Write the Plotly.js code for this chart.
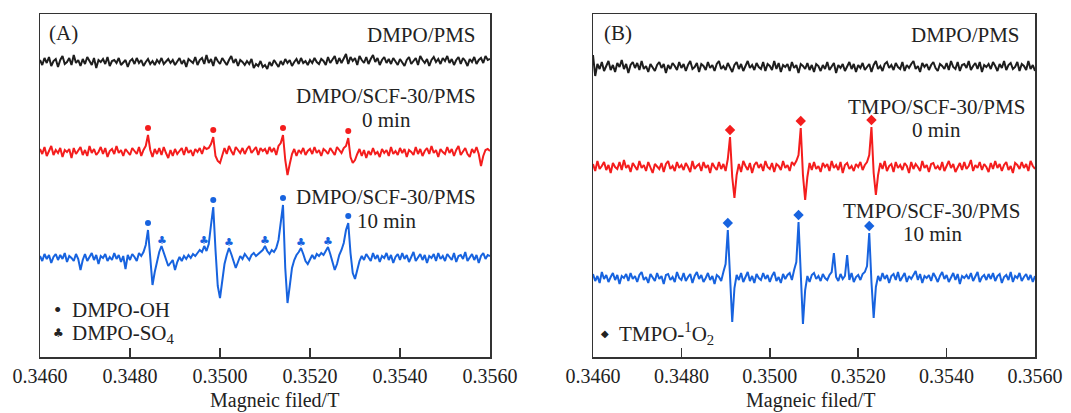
<!DOCTYPE html>
<html><head><meta charset="utf-8">
<script src="https://cdn.plot.ly/plotly-3.0.1.min.js"></script>
<style>html,body{margin:0;padding:0;background:#fff;}#chart{width:1071px;height:413px;}</style>
</head><body><div id="chart"></div>
<script>
// Magnetic field grid (T), shared by all spectra
const field = [
0.34600,0.34605,0.34610,0.34615,0.34620,0.34625,0.34630,0.34635,0.34640,0.34645,0.34650,0.34655,0.34660,0.34665,0.34670,0.34675,0.34680,0.34685,0.34690,0.34695,
0.34700,0.34705,0.34710,0.34715,0.34720,0.34725,0.34730,0.34735,0.34740,0.34745,0.34750,0.34755,0.34760,0.34765,0.34770,0.34775,0.34780,0.34785,0.34790,0.34795,
0.34800,0.34805,0.34810,0.34815,0.34820,0.34825,0.34830,0.34835,0.34840,0.34845,0.34850,0.34855,0.34860,0.34865,0.34870,0.34875,0.34880,0.34885,0.34890,0.34895,
0.34900,0.34905,0.34910,0.34915,0.34920,0.34925,0.34930,0.34935,0.34940,0.34945,0.34950,0.34955,0.34960,0.34965,0.34970,0.34975,0.34980,0.34985,0.34990,0.34995,
0.35000,0.35005,0.35010,0.35015,0.35020,0.35025,0.35030,0.35035,0.35040,0.35045,0.35050,0.35055,0.35060,0.35065,0.35070,0.35075,0.35080,0.35085,0.35090,0.35095,
0.35100,0.35105,0.35110,0.35115,0.35120,0.35125,0.35130,0.35135,0.35140,0.35145,0.35150,0.35155,0.35160,0.35165,0.35170,0.35175,0.35180,0.35185,0.35190,0.35195,
0.35200,0.35205,0.35210,0.35215,0.35220,0.35225,0.35230,0.35235,0.35240,0.35245,0.35250,0.35255,0.35260,0.35265,0.35270,0.35275,0.35280,0.35285,0.35290,0.35295,
0.35300,0.35305,0.35310,0.35315,0.35320,0.35325,0.35330,0.35335,0.35340,0.35345,0.35350,0.35355,0.35360,0.35365,0.35370,0.35375,0.35380,0.35385,0.35390,0.35395,
0.35400,0.35405,0.35410,0.35415,0.35420,0.35425,0.35430,0.35435,0.35440,0.35445,0.35450,0.35455,0.35460,0.35465,0.35470,0.35475,0.35480,0.35485,0.35490,0.35495,
0.35500,0.35505,0.35510,0.35515,0.35520,0.35525,0.35530,0.35535,0.35540,0.35545,0.35550,0.35555,0.35560,0.35565,0.35570,0.35575,0.35580,0.35585,0.35590,0.35595,
0.35600];

// Panel A spectra (relative intensity, a.u.)
const a_dmpo_pms = [
2,-3,4,-1,5,-4,1,3,-5,2,6,-2,0,4,-3,7,-1,2,-4,3,
-2,5,1,-3,4,-6,2,0,3,-2,5,-4,1,2,-1,4,-3,0,2,-5,
1,3,-2,4,-1,2,-4,0,3,-2,1,-3,2,-1,4,-2,0,3,-1,2,
-3,1,4,-2,2,-5,3,1,-1,5,-3,2,4,-2,7,-1,3,-4,5,1,
-2,4,0,-3,2,6,-1,3,-4,2,0,-3,1,-2,3,-6,-2,-4,1,-5,
-3,-7,0,-4,2,-2,-5,1,-3,3,-1,2,-4,0,3,-2,4,-1,1,-3,
2,-1,4,0,-2,3,1,-3,5,-1,2,6,-2,4,-1,3,8,-2,5,1,
4,-3,6,2,-1,5,-2,3,7,0,4,-3,2,5,-1,3,-2,4,1,-3,
3,0,-4,2,5,-2,1,4,-3,6,2,-1,3,-4,2,5,0,3,-2,4,
1,6,-1,3,-3,2,5,-2,4,1,-4,3,0,5,-2,2,4,-1,6,2,
3];
const a_scf_0min = [
3,-2,5,-4,1,6,-3,2,-1,4,-5,2,0,3,-6,4,-2,1,5,-3,
2,-4,6,-1,3,-3,0,5,-2,4,-5,1,3,-2,6,-1,2,-4,3,0,
-3,4,1,-2,5,-4,2,6,17,2,-5,3,-2,4,-3,5,-1,-6,2,-4,
3,-2,1,4,-3,5,-1,2,-4,3,0,4,-2,5,3,4,8,15,-4,-9,
-11,-3,4,-2,6,1,-3,5,2,-1,4,-2,3,6,-1,2,5,-3,4,1,
3,-2,5,0,4,-3,6,9,17,-8,-23,-12,-2,3,-4,2,-1,4,-3,1,
3,-2,5,-1,2,-4,3,1,-2,4,0,-3,5,2,-1,4,6,14,-5,-11,
-8,-2,3,-4,2,-6,1,-3,4,-2,0,-5,3,-1,2,-4,5,-2,1,-3,
4,-1,3,-5,2,0,-3,5,-2,3,-4,1,4,-2,6,-1,2,-5,3,0,
-2,5,-1,3,-4,2,6,-3,1,4,-2,-5,3,-1,5,-2,-14,-4,2,3,
1];
const a_scf_10min = [
2,-3,4,-1,3,-5,1,4,-2,3,-1,5,-4,2,0,-3,4,-1,-12,-2,
4,-3,1,5,-2,3,-6,2,0,4,-3,1,-2,5,-1,3,-4,2,-11,3,
-2,4,1,-3,5,2,6,13,28,-4,-27,-14,-2,6,12,5,-3,-8,-5,-2,
-12,-4,1,-3,2,-1,3,0,4,2,5,8,6,12,7,14,33,51,8,-28,
-40,-22,-6,3,10,4,-3,-10,-4,2,-1,4,1,-2,3,5,2,4,6,8,
12,7,4,8,6,10,18,35,53,-10,-45,-28,-10,-2,3,6,10,4,-3,-6,
-2,3,-1,4,2,5,3,7,11,4,-4,-12,-6,3,8,15,28,35,5,-15,
-21,-12,-3,2,-2,4,1,-3,5,-1,3,-4,2,0,5,-2,3,-5,1,4,
-2,5,-1,3,-4,2,6,-3,1,4,-2,3,-5,2,0,4,-3,5,-1,2,
-3,4,1,-2,5,-4,2,3,-1,6,-3,1,4,-2,3,-5,2,5,-1,3,
2];

// Panel B spectra (relative intensity, a.u.)
const b_dmpo_pms = [
12,-9,3,-2,5,-4,1,6,-3,2,-5,4,0,7,-2,3,-6,2,5,-1,
4,-3,6,-2,1,-5,3,0,-4,2,5,-1,3,-6,2,-2,4,1,-3,5,
-1,3,-4,2,6,-2,0,4,-5,3,1,-3,5,-1,2,-4,3,6,-2,1,
-3,4,0,-5,2,5,-2,3,-4,1,6,-1,2,-3,4,0,-2,5,-4,3,
1,-3,6,-2,4,-5,2,0,3,-4,5,-1,2,-6,3,1,-2,4,-3,2,
-5,3,1,-4,2,-2,5,-3,0,4,-6,2,-1,3,-4,1,5,-2,3,-5,
2,-1,4,-3,0,3,-5,2,6,-2,1,-4,3,5,-1,2,-3,4,0,-2,
5,-4,2,-1,3,6,-2,1,-5,4,0,3,-3,2,5,-1,-4,3,1,-2,
4,-3,6,0,-2,5,-4,2,3,-1,6,-3,1,4,-2,5,-5,2,0,3,
-2,5,1,-4,3,-1,6,-3,2,4,-2,0,5,-4,3,1,-3,6,-2,2,
-4];
const b_tmpo_0min = [
3,-4,6,-2,1,5,-3,2,-6,4,0,-2,5,-3,7,-1,2,-5,4,1,
-3,6,-1,2,-4,5,0,-6,3,1,-2,4,-5,3,6,-2,1,-4,5,-1,
2,-3,4,0,-5,6,-2,1,3,-4,5,-1,2,-6,4,0,-3,5,-2,3,
-4,8,30,-10,-31,-8,3,-5,6,1,-3,4,-6,2,5,-1,3,-4,6,0,
-2,4,-5,3,1,-3,6,-1,2,-4,5,2,6,12,39,-8,-33,-10,4,-3,
5,-2,1,-5,4,0,3,-4,6,-1,2,-3,5,-6,2,4,-2,1,-4,3,
0,5,-3,2,5,12,40,-6,-28,-8,4,-2,6,-4,1,3,-5,5,-1,2,
-3,4,1,-6,5,-2,3,0,-4,6,-1,2,-5,3,4,-2,1,-3,5,-4,
2,6,-1,3,-5,0,4,-3,5,-2,1,7,-4,2,-1,5,-3,3,0,-5,
4,-2,6,-1,3,-4,2,5,-3,1,-6,4,2,-2,5,-1,3,-4,6,1,
-2];
const b_tmpo_10min = [
4,-3,2,-5,6,-1,3,-4,1,5,-2,3,-6,2,0,4,-3,5,-1,2,
-4,3,6,-2,1,-5,4,0,-3,5,-1,2,-6,3,4,-2,1,-4,6,0,
-2,5,-3,1,4,-5,2,6,-1,3,-4,0,5,-2,2,-6,3,1,-3,6,
14,48,-6,-44,-10,3,-2,5,-4,1,6,-3,2,-5,4,0,-2,5,-1,3,
-4,2,6,-3,1,-5,4,-1,3,5,-2,8,16,56,-5,-46,-12,2,-4,3,
5,-1,2,-3,4,0,-2,3,6,25,1,-3,4,-1,2,23,-2,5,-4,1,
3,-2,4,6,12,45,-4,-40,-9,2,-3,5,-1,3,-5,2,4,-2,6,-3,
1,5,-4,2,-1,3,7,-2,4,-5,2,0,3,-3,5,1,-4,2,6,-1,
3,-4,1,5,-2,4,-6,2,0,3,-1,5,-3,2,6,-4,1,3,-2,4,
-1,5,-3,2,4,-5,1,3,-2,6,-4,2,0,5,-3,1,4,-2,3,-4,
2];

// Peak assignments (field positions, T)
const dmpoOH_peaks = [0.34840, 0.34985, 0.35140, 0.35285];
const dmpoSO4_peaks = [0.34870, 0.34965, 0.35020, 0.35100, 0.35180, 0.35240];
const tmpo_peaks_0min = [0.34910, 0.35070, 0.35230];
const tmpo_peaks_10min = [0.34905, 0.35065, 0.35225];

const tickVals = [0.3460, 0.3480, 0.3500, 0.3520, 0.3540, 0.3560];
const tickText = ['0.3460', '0.3480', '0.3500', '0.3520', '0.3540', '0.3560'];

// ---- styling / stacking ----
const C_BLACK = '#1e1e1e', C_RED = '#f41d1d', C_BLUE = '#1763df';
const SERIF = 'Liberation Serif, Times New Roman, serif';
const off = {aBlack: 295, aRed: 205, aBlue: 99, bBlack: 290, bRed: 190, bBlue: 79};

function shifted(arr, o) { return arr.map(v => v + o); }
function markAt(xs, arr, o, gap) {
  return xs.map(x => {
    const i = field.findIndex(f => Math.abs(f - x) < 1e-7);
    return arr[i] + o + gap;
  });
}
function line(y, color, xa, ya) {
  return {x: field, y: y, type: 'scatter', mode: 'lines', xaxis: xa, yaxis: ya,
    line: {color: color, width: 2}, hoverinfo: 'skip'};
}
function marks(xs, ys, color, symbol, size, xa, ya) {
  return {x: xs, y: ys, type: 'scatter', mode: 'markers', xaxis: xa, yaxis: ya,
    marker: {color: color, symbol: symbol, size: size}, hoverinfo: 'skip'};
}

const traces = [
  line(shifted(a_dmpo_pms, off.aBlack), C_BLACK, 'x', 'y'),
  line(shifted(a_scf_0min, off.aRed), C_RED, 'x', 'y'),
  line(shifted(a_scf_10min, off.aBlue), C_BLUE, 'x', 'y'),
  marks(dmpoOH_peaks, markAt(dmpoOH_peaks, a_scf_0min, off.aRed, 7), C_RED, 'circle', 6, 'x', 'y'),
  marks(dmpoOH_peaks, markAt(dmpoOH_peaks, a_scf_10min, off.aBlue, 7), C_BLUE, 'circle', 6, 'x', 'y'),
  line(shifted(b_dmpo_pms, off.bBlack), C_BLACK, 'x2', 'y2'),
  line(shifted(b_tmpo_0min, off.bRed), C_RED, 'x2', 'y2'),
  line(shifted(b_tmpo_10min, off.bBlue), C_BLUE, 'x2', 'y2'),
  marks(tmpo_peaks_0min, markAt(tmpo_peaks_0min, b_tmpo_0min, off.bRed, 7), C_RED, 'diamond', 8, 'x2', 'y2'),
  marks(tmpo_peaks_10min, markAt(tmpo_peaks_10min, b_tmpo_10min, off.bBlue, 7), C_BLUE, 'diamond', 8, 'x2', 'y2')
];

function xax(domain, anchor) {
  return {domain: domain, anchor: anchor, range: [0.346, 0.356], tickmode: 'array',
    tickvals: tickVals, ticktext: tickText, ticks: 'inside', ticklen: 9, tickwidth: 1.5, tickcolor: '#333',
    showline: true, mirror: true, linecolor: '#333', linewidth: 1.5, showgrid: false, zeroline: false,
    tickfont: {family: SERIF, size: 20, color: '#222'}};
}
function yax(anchor) {
  return {anchor: anchor, range: [0, 343], showticklabels: false, ticks: '', showline: true, mirror: true,
    linecolor: '#333', linewidth: 1.5, showgrid: false, zeroline: false};
}
function ann(text, x, y, xanchor, xref, yref, size, family, color) {
  return {text: text, x: x, y: y, xref: xref, yref: yref, xanchor: xanchor, yanchor: 'middle',
    showarrow: false, font: {family: family || SERIF, size: size || 21, color: color || '#222'}};
}

// DMPO-SO4 club marks above the 10 min spectrum, placed from the data
const so4Y = markAt(dmpoSO4_peaks, a_scf_10min, off.aBlue, 6);
const clubAnns = dmpoSO4_peaks.map((x, k) => ann('♣', x, so4Y[k], 'center', 'x', 'y', 11, 'DejaVu Sans', C_BLUE));

const layout = {
  width: 1071, height: 413, margin: {l: 0, r: 0, t: 14, b: 56},
  paper_bgcolor: '#fff', plot_bgcolor: '#fff', showlegend: false,
  xaxis: xax([40/1071, 490/1071], 'y'), yaxis: yax('x'),
  xaxis2: xax([593/1071, 1035/1071], 'y2'), yaxis2: yax('x2'),
  annotations: clubAnns.concat([
    ann('(A)', 0.34616, 324, 'left', 'x', 'y'),
    ann('DMPO/PMS', 0.35573, 322, 'right', 'x', 'y'),
    ann('DMPO/SCF-30/PMS', 0.35573, 261, 'right', 'x', 'y'),
    ann('0 min', 0.35371, 237, 'center', 'x', 'y'),
    ann('DMPO/SCF-30/PMS', 0.35573, 160, 'right', 'x', 'y'),
    ann('10 min', 0.35371, 136, 'center', 'x', 'y'),
    ann('•', 0.34638, 47, 'center', 'x', 'y', 21),
    ann('DMPO-OH', 0.34667, 47, 'left', 'x', 'y'),
    ann('♣', 0.34640, 24, 'center', 'x', 'y', 12, 'DejaVu Sans'),
    ann('DMPO-SO<sub>4</sub>', 0.34667, 23, 'left', 'x', 'y'),
    ann('Magneic filed/T', 0.35122, -0.127, 'center', 'x', 'paper', 20),
    ann('(B)', 0.34620, 324, 'left', 'x2', 'y2'),
    ann('DMPO/PMS', 0.35571, 322, 'right', 'x2', 'y2'),
    ann('TMPO/SCF-30/PMS', 0.35582, 250.5, 'right', 'x2', 'y2'),
    ann('0 min', 0.35378, 227.5, 'center', 'x2', 'y2'),
    ann('TMPO/SCF-30/PMS', 0.35571, 146, 'right', 'x2', 'y2'),
    ann('10 min', 0.35369, 123, 'center', 'x2', 'y2'),
    ann('◆', 0.34627, 24, 'center', 'x2', 'y2', 10, 'DejaVu Sans'),
    ann('TMPO-<sup>1</sup>O<sub>2</sub>', 0.34654, 24, 'left', 'x2', 'y2'),
    ann('Magneic filed/T', 0.35091, -0.127, 'center', 'x2', 'paper', 20)
  ])
};
Plotly.newPlot('chart', traces, layout, {staticPlot: true, displayModeBar: false});
</script></body></html>
